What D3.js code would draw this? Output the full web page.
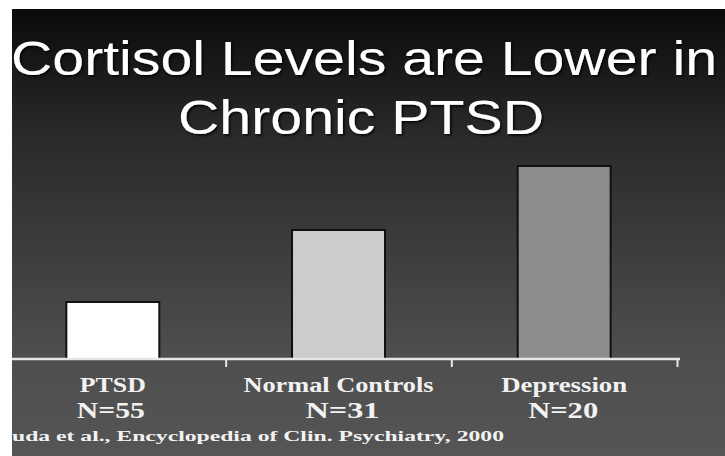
<!DOCTYPE html>
<html>
<head>
<meta charset="utf-8">
<script src="https://cdn.jsdelivr.net/npm/d3@7"></script>
<style>
  html, body { margin: 0; padding: 0; background: #fff; }
  svg { display: block; }
</style>
</head>
<body>
<div id="chart"></div>
<script>
// chart data (no y axis shown, arbitrary units)
const categories = ["PTSD", "Normal Controls", "Depression"];
const sampleSizes = ["N=55", "N=31", "N=20"];
const cortisol = [57, 129, 193];
const barColors = ["#ffffff", "#cccccc", "#8c8c8c"];
const titleLines = ["Cortisol Levels are Lower in", "Chronic PTSD"];
const footnote = "uda et al., Encyclopedia of Clin. Psychiatry, 2000";

const width = 725, height = 456;

const svg = d3.select("#chart").append("svg")
  .attr("width", width)
  .attr("height", height);

// slide background gradient
const defs = svg.append("defs");
const grad = defs.append("linearGradient")
  .attr("id", "bg")
  .attr("x1", 0).attr("y1", 0).attr("x2", 0).attr("y2", 1);
grad.append("stop").attr("offset", "0%").attr("stop-color", "#080808");
grad.append("stop").attr("offset", "30%").attr("stop-color", "#2a2a2a");
grad.append("stop").attr("offset", "78%").attr("stop-color", "#4e4e4e");
grad.append("stop").attr("offset", "100%").attr("stop-color", "#555555");

const shadow = defs.append("filter").attr("id", "shadow");
shadow.append("feDropShadow")
  .attr("dx", 1.5).attr("dy", 1.5).attr("stdDeviation", 1)
  .attr("flood-color", "#000").attr("flood-opacity", 0.9);

svg.append("rect")
  .attr("width", width).attr("height", height)
  .attr("fill", "url(#bg)");

// title
const titleWidths = [706, 366];
svg.append("g").selectAll("text")
  .data(titleLines)
  .enter()
  .append("text")
  .attr("x", (d, i) => i === 0 ? 364 : 361)
  .attr("y", (d, i) => 75 + i * 59)
  .attr("text-anchor", "middle")
  .attr("textLength", (d, i) => titleWidths[i])
  .attr("lengthAdjust", "spacingAndGlyphs")
  .attr("fill", "#fff")
  .attr("filter", "url(#shadow)")
  .style("font-family", "'Liberation Sans', Arial, sans-serif")
  .style("font-size", "49px")
  .text(d => d);

// scales
const baseline = 359;
const x = d3.scaleBand()
  .domain(categories)
  .range([0, 677])
  .paddingInner(0.588)
  .paddingOuter(0.294);

const xEdge = d3.scaleLinear()
  .domain([0, categories.length])
  .range([0, 677]);

const y = d3.scaleLinear()
  .domain([0, 200])
  .range([baseline, baseline - 200]);

// bars
svg.append("g").selectAll("rect")
  .data(cortisol)
  .enter()
  .append("rect")
  .attr("x", (d, i) => x(categories[i]))
  .attr("y", d => y(d))
  .attr("width", x.bandwidth())
  .attr("height", d => baseline - y(d))
  .attr("fill", (d, i) => barColors[i])
  .attr("stroke", "#111")
  .attr("stroke-width", 2);

// category axis with ticks at the band edges
const xAxis = d3.axisBottom(xEdge)
  .tickValues([1, 2, 3])
  .tickSize(8)
  .tickSizeOuter(0)
  .tickFormat("");

const axisG = svg.append("g")
  .attr("transform", `translate(0,${baseline})`)
  .call(xAxis);
axisG.select(".domain")
  .attr("stroke", "#e6e6e6")
  .attr("stroke-width", 2.5)
  .attr("d", "M0,0H680");
axisG.selectAll(".tick line")
  .attr("stroke", "#e6e6e6")
  .attr("stroke-width", 2);

// category labels
const labelWidths = [66, 190, 126];
const nWidths = [68, 74, 70];
const labels = svg.append("g")
  .style("font-family", "'Liberation Serif', 'Times New Roman', serif")
  .style("font-weight", "bold")
  .attr("fill", "#f2f2f2");

labels.selectAll(".cat")
  .data(categories)
  .enter()
  .append("text")
  .attr("class", "cat")
  .attr("x", d => x(d) + x.bandwidth() / 2)
  .attr("y", 392)
  .attr("text-anchor", "middle")
  .attr("textLength", (d, i) => labelWidths[i])
  .attr("lengthAdjust", "spacingAndGlyphs")
  .style("font-size", "20px")
  .text(d => d);

labels.selectAll(".n")
  .data(sampleSizes)
  .enter()
  .append("text")
  .attr("class", "n")
  .attr("x", (d, i) => x(categories[i]) + x.bandwidth() / 2 + [-2, 4, -1][i])
  .attr("y", 418)
  .attr("text-anchor", "middle")
  .attr("textLength", (d, i) => nWidths[i])
  .attr("lengthAdjust", "spacingAndGlyphs")
  .style("font-size", "24px")
  .text(d => d);

// source line
labels.append("text")
  .attr("x", 12)
  .attr("y", 441)
  .attr("textLength", 492)
  .attr("lengthAdjust", "spacingAndGlyphs")
  .style("font-size", "14px")
  .text(footnote);

// white margin of the scanned slide
svg.append("rect").attr("x", 0).attr("y", 0).attr("width", width).attr("height", 9).attr("fill", "#fff");
svg.append("rect").attr("x", 0).attr("y", 0).attr("width", 12).attr("height", height).attr("fill", "#fff");
</script>
</body>
</html>
